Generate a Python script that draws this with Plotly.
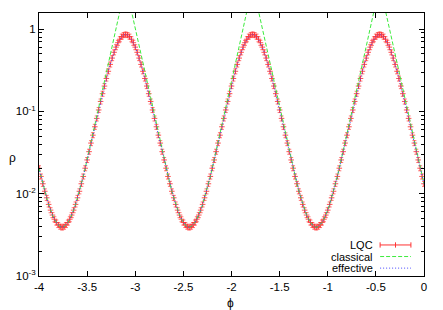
import plotly.graph_objects as go

# ---- data ----
phi_start, phi_step, n_points = -4.0, 0.02, 201
phi = [round(phi_start + phi_step * i, 2) for i in range(n_points)]

rho_lqc = [
    0.0204, 0.0162, 0.0132, 0.0107, 0.00891, 0.00741, 0.00631, 0.00550, 0.00490, 0.00447, 0.00417, 0.00398, 0.00389,
    0.00398, 0.00417, 0.00447, 0.00490, 0.00550, 0.00631, 0.00741, 0.00891, 0.0107, 0.0132, 0.0162, 0.0204, 0.0257,
    0.0324, 0.0412, 0.0514, 0.0650, 0.0822, 0.104, 0.132, 0.164, 0.203, 0.251, 0.307, 0.372, 0.444, 0.522, 0.603,
    0.682, 0.753, 0.811, 0.847, 0.861,
    0.847, 0.811, 0.753, 0.682, 0.603, 0.522, 0.444, 0.372, 0.307, 0.251, 0.203, 0.164, 0.132, 0.104, 0.0822, 0.0650,
    0.0514, 0.0412, 0.0324, 0.0257, 0.0204, 0.0162, 0.0132, 0.0107, 0.00891, 0.00741, 0.00631, 0.00550, 0.00490,
    0.00447, 0.00417, 0.00398, 0.00389,
    0.00398, 0.00417, 0.00447, 0.00490, 0.00550, 0.00631, 0.00741, 0.00891, 0.0107, 0.0132, 0.0162, 0.0204, 0.0257,
    0.0324, 0.0412, 0.0514, 0.0650, 0.0822, 0.104, 0.132, 0.164, 0.203, 0.251, 0.307, 0.372, 0.444, 0.522, 0.603,
    0.682, 0.753, 0.811, 0.847, 0.861,
    0.847, 0.811, 0.753, 0.682, 0.603, 0.522, 0.444, 0.372, 0.307, 0.251, 0.203, 0.164, 0.132, 0.104, 0.0822, 0.0650,
    0.0514, 0.0412, 0.0324, 0.0257, 0.0204, 0.0162, 0.0132, 0.0107, 0.00891, 0.00741, 0.00631, 0.00550, 0.00490,
    0.00447, 0.00417, 0.00398, 0.00389,
    0.00398, 0.00417, 0.00447, 0.00490, 0.00550, 0.00631, 0.00741, 0.00891, 0.0107, 0.0132, 0.0162, 0.0204, 0.0257,
    0.0324, 0.0412, 0.0514, 0.0650, 0.0822, 0.104, 0.132, 0.164, 0.203, 0.251, 0.307, 0.372, 0.444, 0.522, 0.603,
    0.682, 0.753, 0.811, 0.847, 0.861,
    0.847, 0.811, 0.753, 0.682, 0.603, 0.522, 0.444, 0.372, 0.307, 0.251, 0.203, 0.164, 0.132, 0.104, 0.0822, 0.0650,
    0.0514, 0.0412, 0.0324, 0.0257, 0.0204, 0.0162, 0.0132,
]

rho_classical = [
    0.0204, 0.0162, 0.0132, 0.0107, 0.00891, 0.00741, 0.00631, 0.00550, 0.00490, 0.00447, 0.00417, 0.00398, 0.00389,
    0.00398, 0.00417, 0.00447, 0.00490, 0.00550, 0.00631, 0.00741, 0.00891, 0.0107, 0.0132, 0.0162, 0.0204, 0.0257,
    0.0324, 0.0412, 0.0531, 0.0679, 0.0867, 0.111, 0.142, 0.181, 0.231, 0.296, 0.378, 0.483, 0.618, 0.789, 1.01,
    1.29, 1.65, 2.11, 2.69, 3.44,
    2.69, 2.11, 1.65, 1.29, 1.01, 0.789, 0.618, 0.483, 0.378, 0.296, 0.231, 0.181, 0.142, 0.111, 0.0867, 0.0679,
    0.0531, 0.0412, 0.0324, 0.0257, 0.0204, 0.0162, 0.0132, 0.0107, 0.00891, 0.00741, 0.00631, 0.00550, 0.00490,
    0.00447, 0.00417, 0.00398, 0.00389,
    0.00398, 0.00417, 0.00447, 0.00490, 0.00550, 0.00631, 0.00741, 0.00891, 0.0107, 0.0132, 0.0162, 0.0204, 0.0257,
    0.0324, 0.0412, 0.0531, 0.0679, 0.0867, 0.111, 0.142, 0.181, 0.231, 0.296, 0.378, 0.483, 0.618, 0.789, 1.01,
    1.29, 1.65, 2.11, 2.69, 3.44,
    2.69, 2.11, 1.65, 1.29, 1.01, 0.789, 0.618, 0.483, 0.378, 0.296, 0.231, 0.181, 0.142, 0.111, 0.0867, 0.0679,
    0.0531, 0.0412, 0.0324, 0.0257, 0.0204, 0.0162, 0.0132, 0.0107, 0.00891, 0.00741, 0.00631, 0.00550, 0.00490,
    0.00447, 0.00417, 0.00398, 0.00389,
    0.00398, 0.00417, 0.00447, 0.00490, 0.00550, 0.00631, 0.00741, 0.00891, 0.0107, 0.0132, 0.0162, 0.0204, 0.0257,
    0.0324, 0.0412, 0.0531, 0.0679, 0.0867, 0.111, 0.142, 0.181, 0.231, 0.296, 0.378, 0.483, 0.618, 0.789, 1.01,
    1.29, 1.65, 2.11, 2.69, 3.44,
    2.69, 2.11, 1.65, 1.29, 1.01, 0.789, 0.618, 0.483, 0.378, 0.296, 0.231, 0.181, 0.142, 0.111, 0.0867, 0.0679,
    0.0531, 0.0412, 0.0324, 0.0257, 0.0204, 0.0162, 0.0132,
]

# the effective curve is indistinguishable from the LQC points in the picture
rho_effective = list(rho_lqc)

lqc_rel_error_percent = 7

x_tick_vals = [-4, -3.5, -3, -2.5, -2, -1.5, -1, -0.5, 0]
x_tick_text = ["-4", "-3.5", "-3", "-2.5", "-2", "-1.5", "-1", "-0.5", "0"]
y_tick_vals = [0.001, 0.01, 0.1, 1]
y_tick_text = ["10<sup>-3</sup>", "10<sup>-2</sup>", "10<sup>-1</sup>", "1"]
y_minor_vals = [k * 10.0 ** e for e in (-3, -2, -1, 0) for k in range(2, 10) if k * 10.0 ** e < 1.6]

series_names = ["LQC", "classical", "effective"]

assert len(rho_lqc) == n_points and len(rho_classical) == n_points

RED = "rgb(255,50,50)"
RED_BAR = "rgba(255,60,60,0.7)"
GREEN = "rgb(60,235,60)"
BLUE = "rgb(70,70,255)"
FONT = "Liberation Sans, Arial, Helvetica, sans-serif"

fig = go.Figure()
fig.add_trace(go.Scatter(
    x=phi, y=rho_lqc, mode="markers", name=series_names[0],
    marker=dict(symbol="cross-thin-open", size=4, color=RED, opacity=0.85, line=dict(color=RED, width=1)),
    error_y=dict(type="percent", value=lqc_rel_error_percent, color=RED_BAR, thickness=1, width=2),
    showlegend=False,
))
fig.add_trace(go.Scatter(
    x=phi, y=rho_classical, mode="lines", name=series_names[1],
    line=dict(color=GREEN, width=1, dash="4px,2px"), showlegend=False,
))
fig.add_trace(go.Scatter(
    x=phi, y=rho_effective, mode="lines", name=series_names[2],
    line=dict(color=BLUE, width=1, dash="1px,2px"), showlegend=False,
))

# custom gnuplot-style key (text left, sample right)
key_x_text = 0.873
key_x0, key_x1 = 0.886, 0.966
key_rows = [0.118, 0.074, 0.030]
annotations = []
shapes = []
for name, ky in zip(series_names, key_rows):
    annotations.append(dict(x=key_x_text, y=ky, xref="paper", yref="paper", text=name,
                            showarrow=False, xanchor="right", yanchor="middle",
                            font=dict(family=FONT, size=11, color="black")))
shapes.append(dict(type="line", xref="paper", yref="paper", x0=key_x0, x1=key_x1,
                   y0=key_rows[0], y1=key_rows[0], line=dict(color=RED, width=1)))
for xc in (key_x0, (key_x0 + key_x1) / 2, key_x1):
    shapes.append(dict(type="line", xref="paper", yref="paper", x0=xc, x1=xc,
                       y0=key_rows[0] - 0.01, y1=key_rows[0] + 0.01, line=dict(color=RED, width=1)))
shapes.append(dict(type="line", xref="paper", yref="paper", x0=key_x0, x1=key_x1,
                   y0=key_rows[1], y1=key_rows[1], line=dict(color=GREEN, width=1, dash="4px,2px")))
shapes.append(dict(type="line", xref="paper", yref="paper", x0=key_x0, x1=key_x1,
                   y0=key_rows[2], y1=key_rows[2], line=dict(color=BLUE, width=1, dash="1px,2px")))

annotations.append(dict(x=-0.07, y=0.449, xref="paper", yref="paper", text="ρ", showarrow=False,
                        xanchor="center", yanchor="middle", font=dict(family=FONT, size=12, color="black")))
annotations.append(dict(x=0.4987, y=-0.103, xref="paper", yref="paper", text="ϕ", showarrow=False,
                        xanchor="center", yanchor="middle", font=dict(family=FONT, size=12, color="black")))

# The page body has an 8px default margin, so the figure is 8px smaller and
# its margins are shifted so that the plot area lands at the reference pixels.
fig.update_layout(
    width=435, height=302,
    margin=dict(l=31, r=19, t=5, b=34),
    paper_bgcolor="white", plot_bgcolor="white",
    font=dict(family=FONT, size=11.5, color="black"),
    annotations=annotations, shapes=shapes,
    showlegend=False,
)
fig.update_xaxes(
    range=[-4, 0], tickmode="array", tickvals=x_tick_vals, ticktext=x_tick_text,
    ticks="inside", ticklen=5, tickcolor="black", showline=True, linecolor="black", linewidth=1,
    mirror="allticks", showgrid=False, zeroline=False, automargin=False,
)
fig.update_yaxes(
    type="log", range=[-3, 0.195], tickmode="array", tickvals=y_tick_vals, ticktext=y_tick_text,
    ticks="inside", ticklen=5, tickcolor="black", showline=True, linecolor="black", linewidth=1,
    mirror="allticks", showgrid=False, zeroline=False, automargin=False,
    minor=dict(tickmode="array", tickvals=y_minor_vals, ticks="inside", ticklen=3,
               tickcolor="black", showgrid=False),
)

fig.write_html("out.html")
